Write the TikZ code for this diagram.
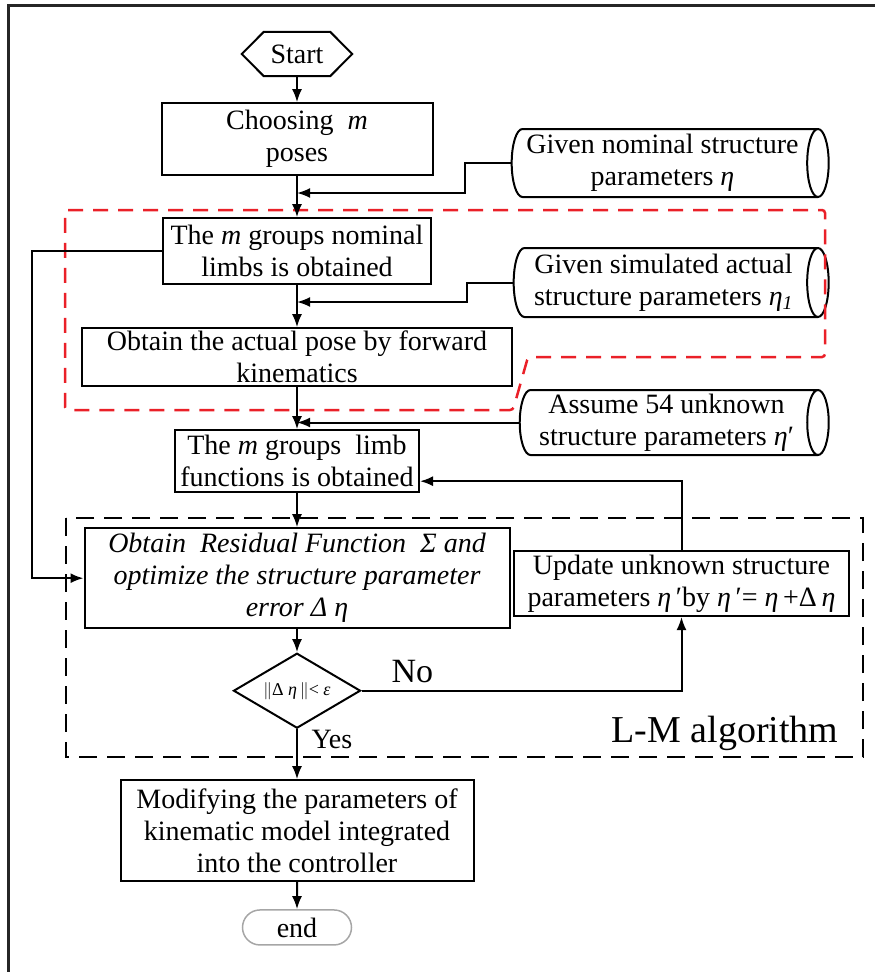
\documentclass[tikz,border=0pt]{standalone}
\usepackage{fontspec}
\setmainfont{Liberation Serif}
\usepackage{tikz}
\usetikzlibrary{shapes.misc,shapes.geometric}
\usetikzlibrary{positioning,arrows.meta}
\definecolor{ColorRed}{RGB}{234,32,40}
\tikzset{
	every node/.style={font=\fontsize{28}{32}\selectfont},
	procbox/.style={rectangle, draw, line width=2pt, align=center, inner sep=3pt},
	datacyl/.style={cylinder, draw, line width=2pt, fill=white, aspect=0.35, align=center, inner sep=2pt},
	flow/.style={line width=2pt, -{Latex[length=13pt,width=10pt]}},
	link/.style={line width=2pt},
	algframe/.style={line width=2.5pt, dash pattern=on 18pt off 10pt},
}

\begin{document}
\begin{tikzpicture}[x=1pt,y=-1pt,
		startbox/.style={rectangle, minimum width=110pt, minimum height=44pt, inner sep=0pt},
		decision/.style={diamond, draw, line width=2pt, aspect=1.68, minimum width=127pt, minimum height=75pt, inner sep=0pt, font=\fontsize{18}{20}\selectfont},
		endbox/.style={rounded rectangle, draw=black!35, line width=1.5pt, minimum width=109pt, minimum height=35pt, inner sep=0pt}]
	\useasboundingbox (0,0) rectangle (875,972);
	\draw [line width=3pt, black!85] (8,972) -- (8,5) -- (875,5);
	% main column
	\node (start) [startbox] at (297,54) {Start};
	\draw [link, line join=miter] (start.west) -- ([xshift=22pt]start.north west) -- ([xshift=-22pt]start.north east) -- (start.east) -- ([xshift=-22pt]start.south east) -- ([xshift=22pt]start.south west) -- cycle;
	\node (choose) [procbox, minimum width=271pt, minimum height=72pt, below=26pt of start] {Choosing \ \textit{m}\\poses};
	\node (groups) [procbox, minimum width=268pt, minimum height=66pt, below=41pt of choose] {The \textit{m} groups nominal\\limbs is obtained};
	\node (pose) [procbox, minimum width=430pt, minimum height=58pt, below=42pt of groups] {Obtain the actual pose by forward\\kinematics};
	\node (limbfun) [procbox, minimum width=244pt, minimum height=62pt, below=42pt of pose] {The \textit{m} groups \ limb\\functions is obtained};
	\node (resid) [procbox, minimum width=425pt, minimum height=100pt, below=34pt of limbfun, font=\fontsize{28}{32}\selectfont\itshape] {Obtain \ Residual Function \ Σ and\\optimize the structure parameter\\error Δ η};
	\node (dia) [decision, below=23pt of resid] {$\|$Δ \textit{η}\,$\|$< \textit{ε}};
	\node (modify) [procbox, minimum width=353pt, minimum height=101pt, below=50pt of dia] {Modifying the parameters of\\kinematic model integrated\\into the controller};
	\node (endnode) [endbox, below=27pt of modify] {end};
	% inputs on the right
	\node (cyl1) [datacyl, minimum height=317pt, minimum width=68pt] at (662.5,163) {Given nominal structure\\parameters \textit{η}};
	\node (cyl2) [datacyl, minimum height=315pt, minimum width=69pt] at (663.5,282.5) {Given simulated actual\\structure parameters \textit{η}\textsubscript{\textit{1}}};
	\node (cyl3) [datacyl, minimum height=309pt, minimum width=65pt] at (666.5,422.5) {Assume 54 unknown\\structure parameters \textit{η}′};
	\node (update) [procbox, minimum width=335pt, minimum height=65pt] at (681.5,583.5) {Update unknown structure\\parameters \textit{η}\,′by \textit{η}\,′= \textit{η}\,+Δ\,\textit{η}};
	\coordinate (j1) at (297,193);
	\coordinate (j2) at (297,302);
	\coordinate (j3) at (297,422.5);
	% frames
	\draw [algframe, ColorRed, dash pattern=on 15pt off 10pt, rounded corners=3pt] (65,210) -- (825,210) -- (825,357) -- (528,357) -- (513,410) -- (65,410) -- cycle;
	\draw [algframe] (66,518) rectangle (863,757);
	% connectors
	\draw [flow] (start) -- (choose);
	\draw [flow] (choose) -- (groups);
	\draw [flow] (groups) -- (pose);
	\draw [flow] (pose) -- (limbfun);
	\draw [flow] (limbfun) -- (resid);
	\draw [flow] (resid) -- (dia);
	\draw [flow] (dia) -- (modify);
	\draw [flow] (modify) -- (endnode);
	\draw [flow] (cyl1.west) -- ++(-46,0) |- (j1);
	\draw [flow] (cyl2.west) -- ++(-46,0) |- (j2);
	\draw [flow] (cyl3.west) -- (j3);
	\draw [flow] (groups.west) -- ++(-130,0) |- (resid.west);
	\draw [flow] (dia.east) -| (update.south);
	\draw [flow] (update.north) |- ([yshift=-20pt]limbfun.east);
	% labels
	\node (nolbl) [anchor=base west, font=\fontsize{34}{36}\selectfont] at (388,682) {No};
	\node (yeslbl) [anchor=base west] at (308,748) {Yes};
	\node (lmlbl) [anchor=base west, font=\fontsize{38}{40}\selectfont] at (608,742) {L-M algorithm};
\end{tikzpicture}
\end{document}
